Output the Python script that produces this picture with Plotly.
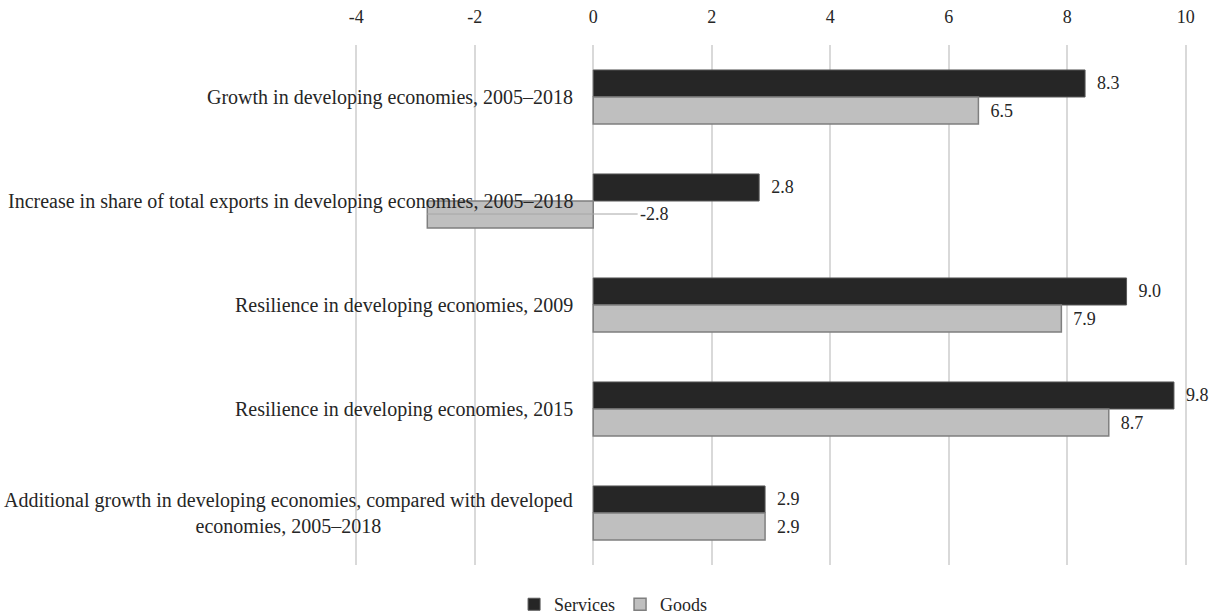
import plotly.graph_objects as go

categories = [
    "Growth in developing economies, 2005–2018",
    "Increase in share of total exports in developing economies, 2005–2018",
    "Resilience in developing economies, 2009",
    "Resilience in developing economies, 2015",
    "Additional growth in developing economies, compared with developed<br>economies, 2005–2018",
]
services = [8.3, 2.8, 9.0, 9.8, 2.9]
goods = [6.5, -2.8, 7.9, 8.7, 2.9]
x_ticks = [-4, -2, 0, 2, 4, 6, 8, 10]

FONT = "Liberation Serif, Times New Roman, serif"
TXT = "#262626"
PAD = "\u00a0\u00a0"

fig = go.Figure()
fig.add_trace(go.Bar(
    name="Services", y=categories, x=services, orientation="h",
    marker=dict(color="#262626", line=dict(color="#595959", width=1)),
    text=[PAD + f"{v:.1f}" for v in services], textposition="outside",
    textfont=dict(family=FONT, size=18, color=TXT), cliponaxis=False,
))
fig.add_trace(go.Bar(
    name="Goods", y=categories, x=goods, orientation="h",
    marker=dict(color="#bfbfbf", line=dict(color="#7f7f7f", width=1.5)),
    text=[PAD + f"{v:.1f}" if v >= 0 else "" for v in goods], textposition="outside",
    textfont=dict(family=FONT, size=18, color=TXT), cliponaxis=False,
))

annotations = []
for c in categories:
    annotations.append(dict(
        x=0, y=c, xref="x", yref="y", text=c, showarrow=False,
        xanchor="right", align="center", xshift=-18,
        font=dict(family=FONT, size=20, color=TXT),
    ))
# leader-lined label for the negative goods value
for c, v in zip(categories, goods):
    if v < 0:
        annotations.append(dict(
            x=v, y=c, xref="x", yref="y", axref="x", ayref="y",
            ax=0.75, ay=c, text=f"{v:.1f}", showarrow=True, arrowhead=0,
            arrowwidth=1, arrowcolor="#a6a6a6", xanchor="left", yshift=-13,
            font=dict(family=FONT, size=18, color=TXT),
        ))

fig.update_layout(
    width=1214, height=615,
    margin=dict(l=355, r=27, t=45, b=50, autoexpand=False),
    paper_bgcolor="white", plot_bgcolor="white",
    barmode="group", bargap=0.48, bargroupgap=0,
    font=dict(family=FONT, size=18, color=TXT),
    annotations=annotations,
    showlegend=True,
    legend=dict(orientation="h", xref="container", yref="container",
                x=0.505, xanchor="center", y=0.017, yanchor="middle",
                font=dict(family=FONT, size=18, color=TXT),
                traceorder="normal", itemwidth=30),
    xaxis=dict(side="top", range=[-4.02, 10.02], tickvals=x_ticks,
               ticktext=[str(t) for t in x_ticks], showgrid=True,
               gridcolor="#d9d9d9", gridwidth=1.5, zeroline=True,
               zerolinecolor="#d9d9d9", zerolinewidth=1.5, showline=False,
               ticks="", ticklabelstandoff=17, automargin=False,
               tickfont=dict(family=FONT, size=18, color=TXT)),
    yaxis=dict(autorange="reversed", showticklabels=False, showgrid=False,
               zeroline=False, showline=False, ticks="", automargin=False),
)

fig.write_html("out.html")
